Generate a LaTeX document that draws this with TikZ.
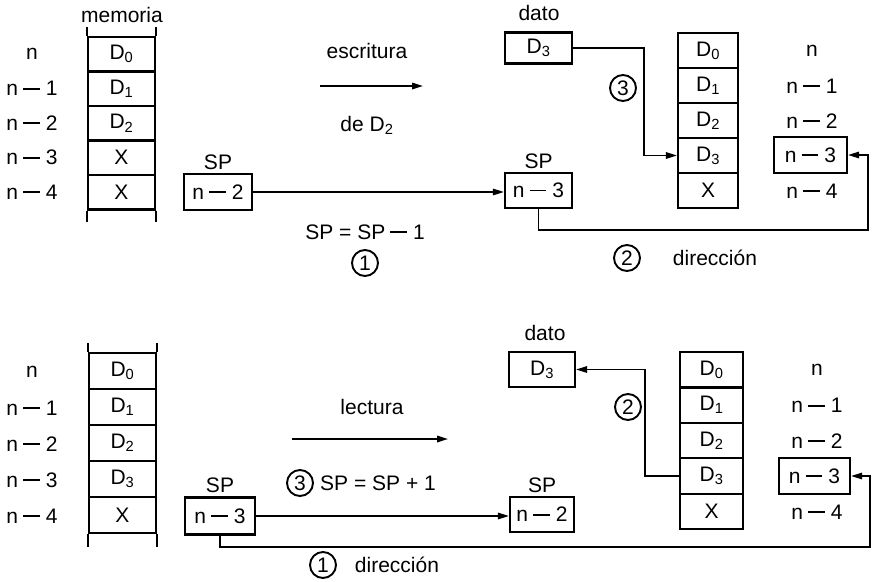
\documentclass[tikz,border=0pt]{standalone}
\usepackage{fontspec}
\setmainfont{Liberation Sans}
\usetikzlibrary{arrows.meta,positioning}
\newcommand{\dsub}[1]{D\textsubscript{#1}}
\newcommand{\mn}{\hspace{0.24em}\rule[0.3em]{0.78em}{0.09em}\hspace{0.3em}}

\begin{document}
\begin{tikzpicture}[x=1pt,y=-1pt,font=\fontsize{21}{25}\selectfont,
    celda/.style={draw,line width=2.2pt,minimum width=67pt,minimum height=34.5pt,inner sep=0pt},
    caja/.style={draw,line width=2.2pt,minimum width=67pt,minimum height=35pt,inner sep=0pt},
    paso/.style={circle,draw,line width=1.9pt,minimum size=26pt,inner sep=0pt},
    flecha/.style={line width=1.6pt,-{Triangle[length=11pt,width=6.5pt]}},
    linea/.style={line width=1.6pt}]
  \useasboundingbox (0,0) rectangle (872,581);

  % escritura
  \node (memoria) at (122,15) {memoria};
  \foreach \t [count=\i from 0] in {\dsub{0},\dsub{1},\dsub{2},X,X}
    \node[celda] (ma\i) at (121.5,54.25+34.5*\i) {\t};
  \draw[line width=2.2pt] (ma0.north west) -- ++(0,-9) (ma0.north east) -- ++(0,-9)
    (ma4.south west) -- ++(0,11) (ma4.south east) -- ++(0,11);
  \foreach \t [count=\i from 0] in {n,n\mn 1,n\mn 2,n\mn 3,n\mn 4}
    \node (ia\i) at (32,54.25+34.5*\i) {\t};

  \node[caja,minimum width=68pt,minimum height=36pt] (spa1) at (218,192) {n\mn 2};
  \node[above=0pt of spa1] (spa1t) {SP};
  \node[caja] (spa2) at (538.5,190.5) {n\mn 3};
  \node[above=0pt of spa2] (spa2t) {SP};
  \draw[flecha] (spa1.east) -- (spa1.east -| spa2.west);

  \node (escr) at (367,51) {escritura};
  \coordinate (ea) at (320,86);
  \coordinate (eb) at (423,86);
  \draw[flecha] (ea) -- (eb);
  \node (deD) at (367,125) {de \dsub{2}};
  \node (resta) at (365,232) {SP = SP\mn 1};
  \node[paso] (pa1) at (365,263) {1};

  \node (datoat) at (539,13) {dato};
  \node[caja,minimum height=31pt] (datoa) at (538.5,48) {\dsub{3}};
  \foreach \t [count=\i from 0] in {\dsub{0},\dsub{1},\dsub{2},\dsub{3},X}
    \node[celda,minimum width=60pt,minimum height=35pt] (mb\i) at (708,50.5+35*\i) {\t};
  \foreach \t/\i in {n/0,n\mn 1/1,n\mn 2/2,n\mn 4/4}
    \node (ib\i) at (812,51+35*\i) {\t};
  \node[caja,minimum width=73pt,minimum height=36pt] (ib3) at (810.5,155) {n\mn 3};

  \draw[flecha] (datoa.east) -- ++(71,0) |- (mb3.west);
  \node[paso] (pa3) at (623,88) {3};
  \coordinate (dira) at (868,230);
  \draw[flecha] (spa2.south) |- (dira) |- (ib3.east);
  \node[paso] (pa2) at (627,258) {2};
  \node (dira_t) at (715,258) {dirección};

  % lectura
  \foreach \t [count=\i from 0] in {\dsub{0},\dsub{1},\dsub{2},\dsub{3},X}
    \node[celda,minimum height=36pt] (mc\i) at (122.5,371+36*\i) {\t};
  \draw[line width=2.2pt] (mc0.north west) -- ++(0,-9) (mc0.north east) -- ++(0,-9)
    (mc4.south west) -- ++(0,13) (mc4.south east) -- ++(0,13);
  \foreach \t [count=\i from 0] in {n,n\mn 1,n\mn 2,n\mn 3,n\mn 4}
    \node (ic\i) at (32,372+36*\i) {\t};

  \node[caja,minimum width=70pt,minimum height=37pt] (spb1) at (220,516) {n\mn 3};
  \node[above=0pt of spb1] (spb1t) {SP};
  \node[caja,minimum width=64pt] (spb2) at (542,514.5) {n\mn 2};
  \node[above=0pt of spb2] (spb2t) {SP};
  \draw[flecha] (spb1.east) -- (spb1.east -| spb2.west);

  \node (lect) at (372,407) {lectura};
  \coordinate (la) at (292,439);
  \coordinate (lb) at (448,439);
  \draw[flecha] (la) -- (lb);
  \node[paso] (pb3) at (300,483) {3};
  \node (suma) at (378,483) {SP = SP + 1};

  \node (datobt) at (545,333) {dato};
  \node[caja,minimum width=66pt] (datob) at (542,369.5) {\dsub{3}};
  \foreach \t [count=\i from 0] in {\dsub{0},\dsub{1},\dsub{2},\dsub{3},X}
    \node[celda,minimum width=63pt,minimum height=35.4pt] (md\i) at (711.5,369.7+35.4*\i) {\t};
  \foreach \t/\i in {n/0,n\mn 1/1,n\mn 2/2,n\mn 4/4}
    \node (id\i) at (817,370+35.6*\i) {\t};
  \node[caja,minimum width=71pt,minimum height=36pt] (id3) at (814.5,476) {n\mn 3};

  \draw[flecha] (md3.west) -- ++(-34,0) |- (datob.east);
  \node[paso] (pb2) at (628,407) {2};
  \coordinate (dirb) at (870,547);
  \draw[flecha] (spb1.south) |- (dirb) |- (id3.east);
  \node[paso] (pb1) at (323,565) {1};
  \node (dirb_t) at (397,565) {dirección};
\end{tikzpicture}
\end{document}
